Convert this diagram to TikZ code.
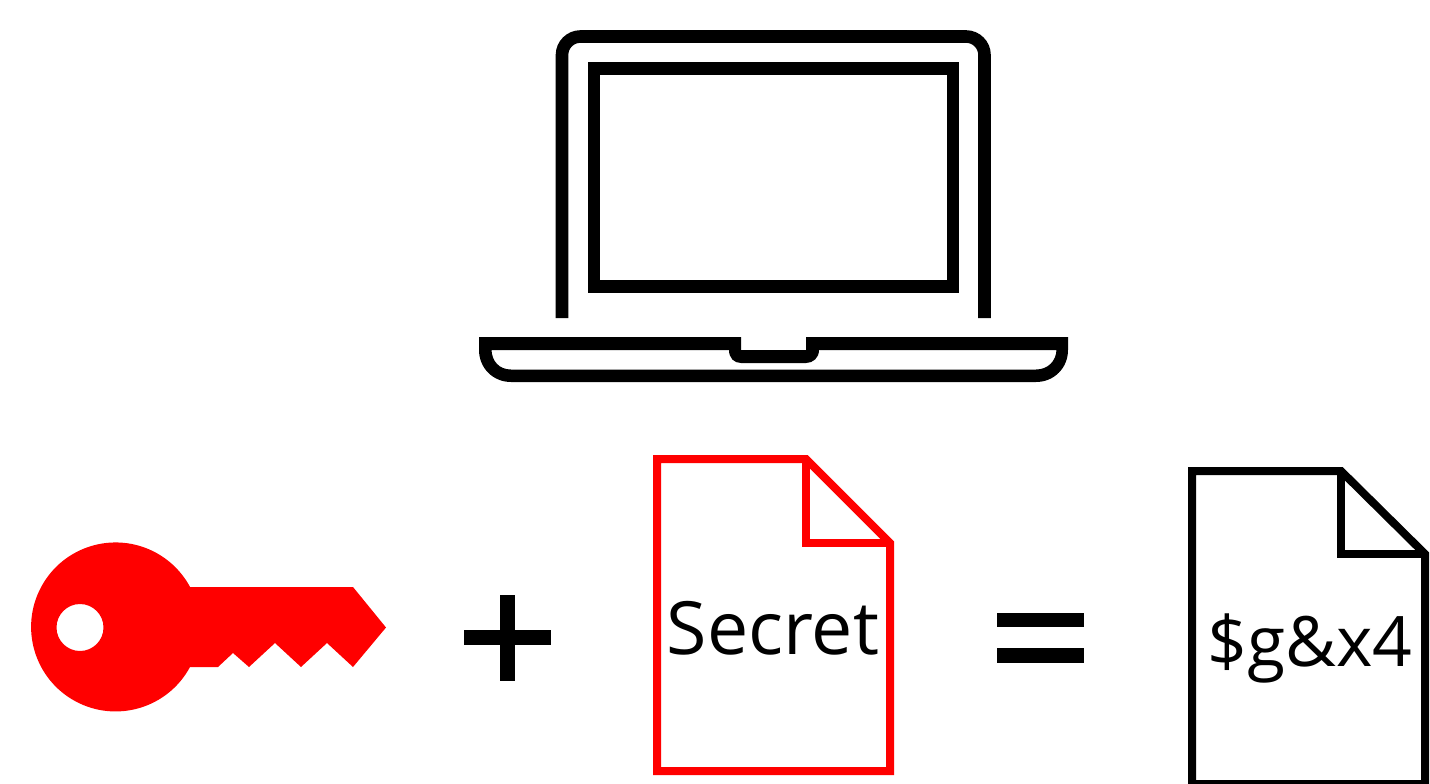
\documentclass[tikz,border=0pt]{standalone}
\usepackage{fontspec}
\setmainfont{Open Sans}
\definecolor{keyred}{RGB}{255,0,0}
\tikzset{
  px/.style={x=1pt,y=-1pt},
  icon/.style={line width=12.6pt,draw=black,line cap=butt,line join=miter,fill=none},
  docpage/.style={line width=8pt,line join=miter,miter limit=10,fill=none},
  bigtext/.style={text=black,inner sep=0pt,anchor=base},
  solid shape/.style={fill=black,draw=none}
}
\begin{document}
\begin{tikzpicture}[px]
\useasboundingbox (0,0) rectangle (1430,784);
\clip (0,0) rectangle (1430,784);
% laptop lid
\draw[icon,rounded corners=18.5pt] (562,318) -- (562,36.5) -- (984.5,36.5) -- (984.5,318);
% screen
\draw[icon] (594,68.5) rectangle (953,286.5);
% laptop base
\fill[black,even odd rule]
  (479,337) -- (741,337) -- (741,350) -- (806,350) -- (806,337) -- (1068,337) -- (1068,350)
  .. controls (1068,368) and (1054,382) .. (1036,382) -- (511,382)
  .. controls (493,382) and (479,368) .. (479,350) -- cycle
  (491.5,350) -- (729,350) .. controls (729,358) and (734,363) .. (741,363) -- (806,363)
  .. controls (813,363) and (819,358) .. (819,350) -- (1056.5,350)
  .. controls (1056,361) and (1048,369.5) .. (1036,369.5) -- (511,369.5)
  .. controls (499,369.5) and (492,361) .. (491.5,350) -- cycle;
% key
\fill[keyred,even odd rule]
  (190,587) -- (353,587) -- (386,627.5) -- (353,667) -- (327,643) -- (301,667) -- (275,643) -- (249,667) -- (233,653) -- (218,667) -- (190,667)
  arc[start angle=28.3,end angle=331.7,radius=84.5] -- cycle
  (80,627.5) circle[radius=23.5];
% plus
\fill[solid shape] (463.5,630.3) rectangle (551,645.3);
\fill[solid shape] (500,595) rectangle (514.7,681);
% equals
\fill[solid shape] (996.7,612.7) rectangle (1084,627.3);
\fill[solid shape] (996.7,648.3) rectangle (1084,663.3);
% red document
\draw[docpage,draw=keyred] (806,459) -- (657,459) -- (657,771) -- (890,771) -- (890,543) -- cycle;
\draw[docpage,draw=keyred] (806,459) -- (806,543) -- (890,543);
\node[bigtext,font=\fontsize{73.5}{73.5}\selectfont] (secret) at (773,654) {Secret};
% black document
\draw[docpage,draw=black] (1341,471) -- (1192,471) -- (1192,784) -- (1425,784) -- (1425,554) -- cycle;
\draw[docpage,draw=black] (1341,471) -- (1341,554) -- (1425,554);
\node[bigtext,font=\fontsize{69.5}{69.5}\selectfont] (cipher) at (1310,666) {\$g\&x4};
\end{tikzpicture}
\end{document}
